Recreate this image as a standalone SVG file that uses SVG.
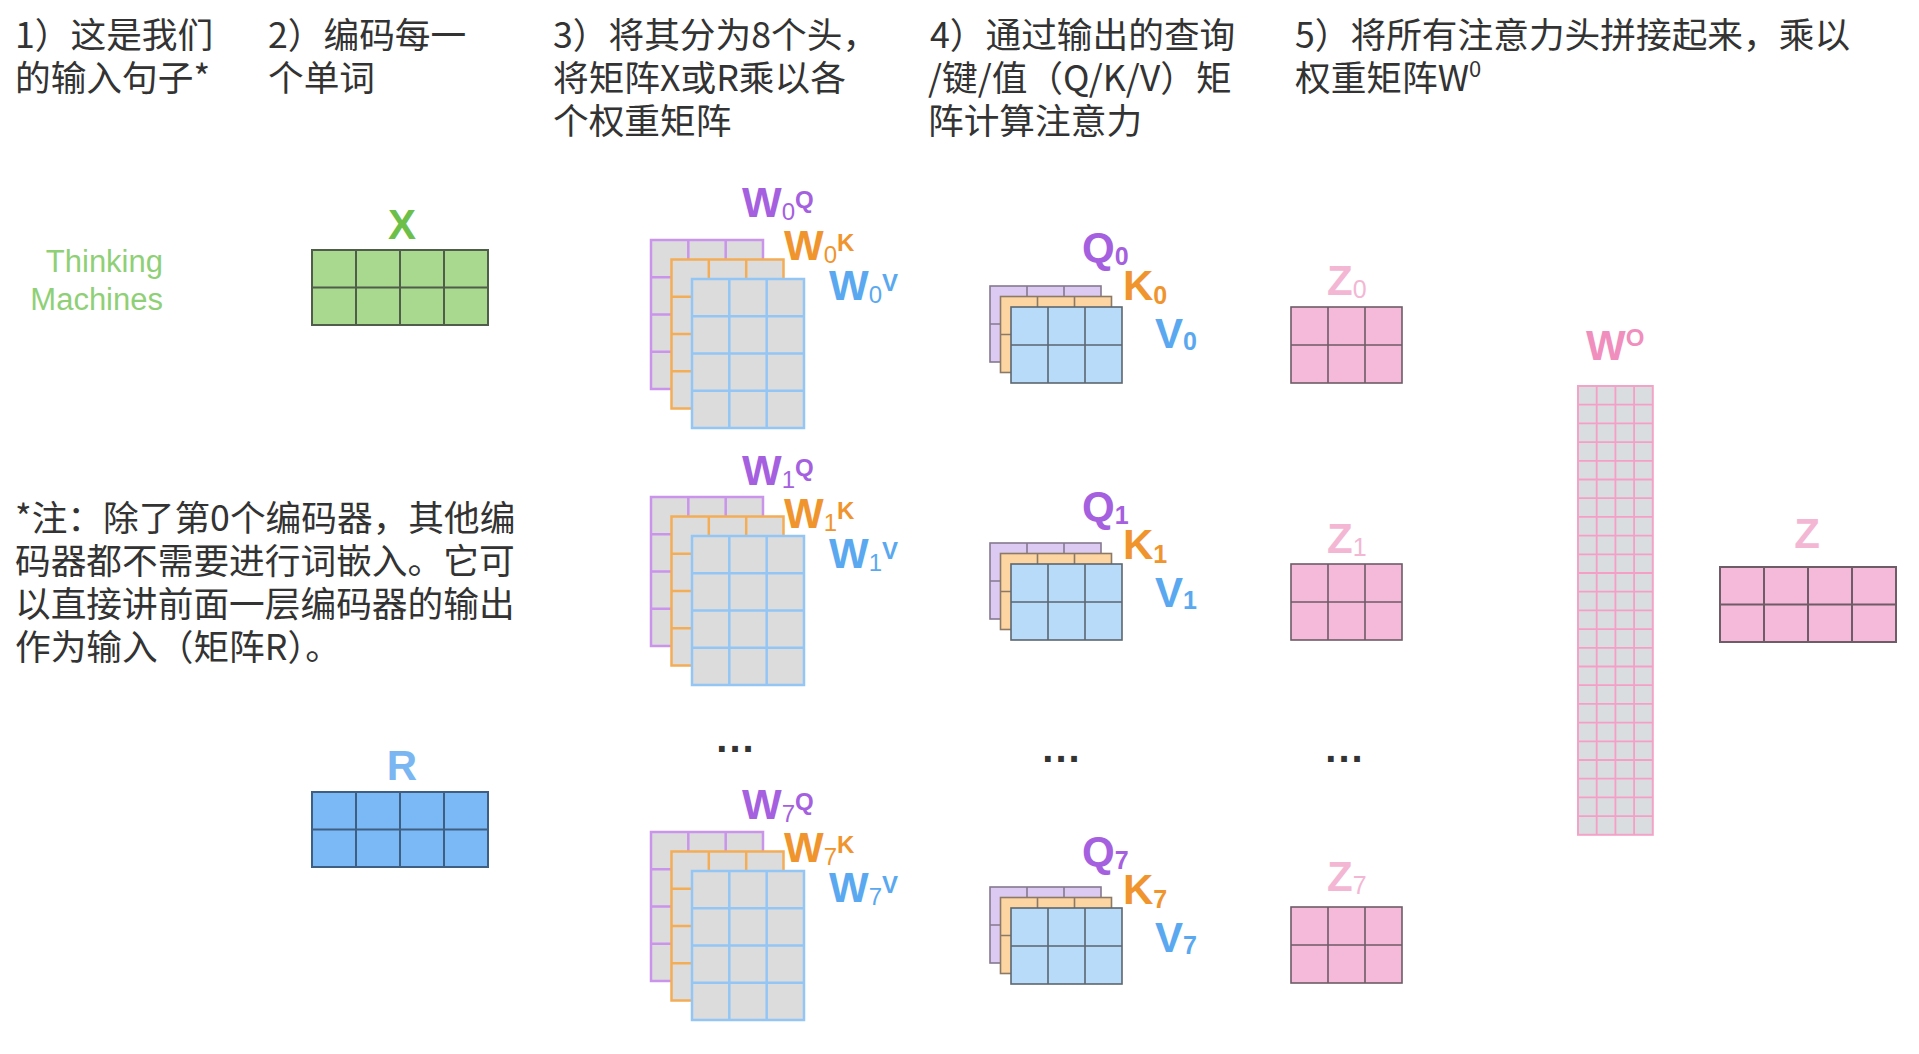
<svg xmlns="http://www.w3.org/2000/svg" xmlns:xlink="http://www.w3.org/1999/xlink" width="1919" height="1054" viewBox="0 0 1919 1054">
<style>
.hd{font-family:"Noto Sans CJK SC","Noto Sans",sans-serif;font-size:35.7px;fill:#333}
.lb{font-family:"Liberation Sans",Arial,sans-serif;font-weight:bold;font-size:42px}
.sb{font-size:24px;font-weight:normal}
.sp{font-size:24px}
.dots{font-family:"Liberation Sans",Arial,sans-serif;font-weight:bold;font-size:40px;letter-spacing:2px;fill:#333;text-anchor:middle}
.pu{fill:#a560e0}.or{fill:#f0952e}.bl{fill:#5aa9f0}.zp{fill:#f3b7d4}
</style>
<defs>
<g id="wg"><rect width="112" height="149"/><path d="M37.3 0V149M74.7 0V149M0 37.25H112M0 74.5H112M0 111.75H112" fill="none"/></g>
<g id="sg"><rect width="111" height="76"/><path d="M37 0V76M74 0V76M0 38H111" fill="none"/></g>
<g id="xg"><rect width="176" height="75"/><path d="M44 0V75M88 0V75M132 0V75M0 37.5H176" fill="none"/></g>
</defs>
<rect width="1919" height="1054" fill="#fff"/>

<g id="headers">
<g id="h1"><text class="hd" x="15" y="48">1）这是我们</text><text class="hd" x="15" y="91">的输入句子*</text></g>
<g id="h2"><text class="hd" x="268" y="48">2）编码每一</text><text class="hd" x="268" y="91">个单词</text></g>
<g id="h3"><text class="hd" x="553" y="48">3）将其分为8个头，</text><text class="hd" x="553" y="91">将矩阵X或R乘以各</text><text class="hd" x="553" y="134">个权重矩阵</text></g>
<g id="h4"><text class="hd" x="930" y="48">4）通过输出的查询</text><text class="hd" x="928" y="91">/键/值（Q/K/V）矩</text><text class="hd" x="928" y="134">阵计算注意力</text></g>
<g id="h5"><text class="hd" x="1295" y="48">5）将所有注意力头拼接起来，乘以</text><text class="hd" x="1295" y="91">权重矩阵W<tspan font-size="22" dy="-14">0</tspan></text></g>
</g>

<g id="note">
<text class="hd" x="15" y="531">*注：除了第0个编码器，其他编</text>
<text class="hd" x="15" y="574">码器都不需要进行词嵌入。它可</text>
<text class="hd" x="15" y="617">以直接讲前面一层编码器的输出</text>
<text class="hd" x="15" y="660">作为输入（矩阵R）。</text>
</g>

<g id="sentence">
<text x="163" y="272" text-anchor="end" font-family="Liberation Sans,Arial,sans-serif" font-size="31" fill="#8fd077">Thinking</text>
<text x="163" y="310" text-anchor="end" font-family="Liberation Sans,Arial,sans-serif" font-size="31" fill="#8fd077">Machines</text>
</g>

<g id="X">
<text class="lb" x="402" y="239" text-anchor="middle" fill="#6cc04a" font-size="43">X</text>
<use xlink:href="#xg" x="312" y="250" fill="#a9d98f" stroke="#4f5d4a" stroke-width="2"/>
</g>

<g id="R">
<text class="lb" x="402" y="780" text-anchor="middle" fill="#7ab7f2">R</text>
<use xlink:href="#xg" x="312" y="792" fill="#7ab9f6" stroke="#3f5f82" stroke-width="2"/>
</g>

<g id="W0">
<use xlink:href="#wg" x="651" y="240" fill="#dcdcdc" stroke="#c994ea" stroke-width="2.5"/>
<use xlink:href="#wg" x="671.5" y="259.5" fill="#dcdcdc" stroke="#f4ad57" stroke-width="2.5"/>
<use xlink:href="#wg" x="692" y="279" fill="#dcdcdc" stroke="#93c6f5" stroke-width="2.5"/>
<text class="lb pu" x="742" y="217">W<tspan class="sb" dy="3">0</tspan><tspan class="sp" dy="-12">Q</tspan></text>
<text class="lb or" x="784" y="260">W<tspan class="sb" dy="3">0</tspan><tspan class="sp" dy="-12">K</tspan></text>
<text class="lb bl" x="829" y="300">W<tspan class="sb" dy="3">0</tspan><tspan class="sp" dy="-12">V</tspan></text>
</g>

<g id="W1">
<use xlink:href="#wg" x="651" y="497" fill="#dcdcdc" stroke="#c994ea" stroke-width="2.5"/>
<use xlink:href="#wg" x="671.5" y="516.5" fill="#dcdcdc" stroke="#f4ad57" stroke-width="2.5"/>
<use xlink:href="#wg" x="692" y="536" fill="#dcdcdc" stroke="#93c6f5" stroke-width="2.5"/>
<text class="lb pu" x="742" y="485">W<tspan class="sb" dy="3">1</tspan><tspan class="sp" dy="-12">Q</tspan></text>
<text class="lb or" x="784" y="528">W<tspan class="sb" dy="3">1</tspan><tspan class="sp" dy="-12">K</tspan></text>
<text class="lb bl" x="829" y="568">W<tspan class="sb" dy="3">1</tspan><tspan class="sp" dy="-12">V</tspan></text>
</g>

<g id="W7">
<use xlink:href="#wg" x="651" y="832" fill="#dcdcdc" stroke="#c994ea" stroke-width="2.5"/>
<use xlink:href="#wg" x="671.5" y="851.5" fill="#dcdcdc" stroke="#f4ad57" stroke-width="2.5"/>
<use xlink:href="#wg" x="692" y="871" fill="#dcdcdc" stroke="#93c6f5" stroke-width="2.5"/>
<text class="lb pu" x="742" y="819">W<tspan class="sb" dy="3">7</tspan><tspan class="sp" dy="-12">Q</tspan></text>
<text class="lb or" x="784" y="862">W<tspan class="sb" dy="3">7</tspan><tspan class="sp" dy="-12">K</tspan></text>
<text class="lb bl" x="829" y="902">W<tspan class="sb" dy="3">7</tspan><tspan class="sp" dy="-12">V</tspan></text>
</g>

<g id="QKV0">
<use xlink:href="#sg" x="990" y="286" fill="#dccaf2" stroke="#85798f" stroke-width="1.6"/>
<use xlink:href="#sg" x="1000.5" y="296.5" fill="#fcd5a2" stroke="#8c7a66" stroke-width="1.6"/>
<use xlink:href="#sg" x="1011" y="307" fill="#b8dbfa" stroke="#5c6670" stroke-width="1.6"/>
<text class="lb pu" x="1082" y="262">Q<tspan font-size="25" dy="3">0</tspan></text>
<text class="lb or" x="1123" y="300">K<tspan font-size="25" dy="4">0</tspan></text>
<text class="lb bl" x="1155" y="348">V<tspan font-size="25" dy="2">0</tspan></text>
</g>

<g id="QKV1">
<use xlink:href="#sg" x="990" y="543" fill="#dccaf2" stroke="#85798f" stroke-width="1.6"/>
<use xlink:href="#sg" x="1000.5" y="553.5" fill="#fcd5a2" stroke="#8c7a66" stroke-width="1.6"/>
<use xlink:href="#sg" x="1011" y="564" fill="#b8dbfa" stroke="#5c6670" stroke-width="1.6"/>
<text class="lb pu" x="1082" y="521">Q<tspan font-size="25" dy="3">1</tspan></text>
<text class="lb or" x="1123" y="559">K<tspan font-size="25" dy="4">1</tspan></text>
<text class="lb bl" x="1155" y="607">V<tspan font-size="25" dy="2">1</tspan></text>
</g>

<g id="QKV7">
<use xlink:href="#sg" x="990" y="887" fill="#dccaf2" stroke="#85798f" stroke-width="1.6"/>
<use xlink:href="#sg" x="1000.5" y="897.5" fill="#fcd5a2" stroke="#8c7a66" stroke-width="1.6"/>
<use xlink:href="#sg" x="1011" y="908" fill="#b8dbfa" stroke="#5c6670" stroke-width="1.6"/>
<text class="lb pu" x="1082" y="866">Q<tspan font-size="25" dy="3">7</tspan></text>
<text class="lb or" x="1123" y="904">K<tspan font-size="25" dy="4">7</tspan></text>
<text class="lb bl" x="1155" y="952">V<tspan font-size="25" dy="2">7</tspan></text>
</g>

<g id="Z0">
<text class="lb zp" x="1327" y="295">Z<tspan font-size="25" font-weight="normal" dy="3">0</tspan></text>
<use xlink:href="#sg" x="1291" y="307" fill="#f5b9d9" stroke="#6e5c66" stroke-width="1.6"/>
</g>
<g id="Z1">
<text class="lb zp" x="1327" y="553">Z<tspan font-size="25" font-weight="normal" dy="3">1</tspan></text>
<use xlink:href="#sg" x="1291" y="564" fill="#f5b9d9" stroke="#6e5c66" stroke-width="1.6"/>
</g>
<g id="Z7">
<text class="lb zp" x="1327" y="891">Z<tspan font-size="25" font-weight="normal" dy="3">7</tspan></text>
<use xlink:href="#sg" x="1291" y="907" fill="#f5b9d9" stroke="#6e5c66" stroke-width="1.6"/>
</g>

<g id="dots">
<text class="dots" x="736" y="752">...</text>
<text class="dots" x="1062" y="762">...</text>
<text class="dots" x="1345" y="762">...</text>
</g>

<g id="WO">
<text class="lb" x="1586" y="360" fill="#f08fbd">W<tspan font-size="24" dy="-14">O</tspan></text>
<rect x="1578" y="386" width="74.8" height="448.8" fill="#d9dde0" stroke="#f3a3c8" stroke-width="2"/>
<path fill="none" stroke="#f59fc6" stroke-width="1.8" d="M1596.7 386V834.8M1615.4 386V834.8M1634.1 386V834.8M1578 404.7H1652.8M1578 423.4H1652.8M1578 442.1H1652.8M1578 460.8H1652.8M1578 479.5H1652.8M1578 498.2H1652.8M1578 516.9H1652.8M1578 535.6H1652.8M1578 554.3H1652.8M1578 573H1652.8M1578 591.7H1652.8M1578 610.4H1652.8M1578 629.1H1652.8M1578 647.8H1652.8M1578 666.5H1652.8M1578 685.2H1652.8M1578 703.9H1652.8M1578 722.6H1652.8M1578 741.3H1652.8M1578 760H1652.8M1578 778.7H1652.8M1578 797.4H1652.8M1578 816.1H1652.8"/>
</g>

<g id="Z">
<text class="lb zp" x="1807" y="548" text-anchor="middle">Z</text>
<use xlink:href="#xg" x="1720" y="567" fill="#f5b9d9" stroke="#6e5c66" stroke-width="2"/>
</g>

<g id="connectors"/>
</svg>
